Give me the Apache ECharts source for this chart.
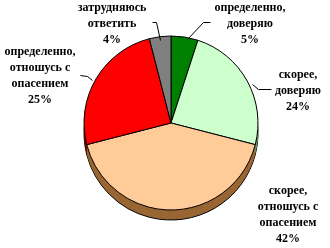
<!DOCTYPE html>
<html><head><meta charset="utf-8">
<script src="https://cdn.jsdelivr.net/npm/echarts@6/dist/echarts.min.js"></script>
<style>html,body{margin:0;padding:0;background:#fff}#c{width:330px;height:248px}</style>
</head><body><div id="c"></div>
<script>
var categories = ['определенно,\nдоверяю', 'скорее,\nдоверяю', 'скорее,\nотношусь с\nопасением', 'определенно,\nотношусь с\nопасением', 'затрудняюсь\nответить'];
var values = [5, 24, 42, 25, 4];
var topColors = ['#008000', '#CCFFCC', '#FFCC99', '#FF0000', '#808080'];
var sideColors = ['#004000', '#669966', '#996633', '#800000', '#404040'];
var labelCenters = [[250, 24], [298, 91], [288, 215], [40, 76], [112, 24]];
var leaderPaths = [
  [[187, 39], [203, 22], [210, 22]],
  [[252, 84], [258, 89], [271, 89]],
  null,
  [[92, 80], [87, 76], [80, 75]],
  [[160, 40], [156, 22], [152, 22]]
];

var cx = 171, cy = 123, R = 87, depth = 10;
var fontFam = '"Liberation Serif", "DejaVu Serif", serif';

function mkData(colors) {
  return categories.map(function (c, i) {
    return { name: c, value: values[i], itemStyle: { color: colors[i] } };
  });
}
var series = [];
for (var d = depth; d >= 1; d--) {
  series.push({
    type: 'pie', silent: true, animation: false,
    center: [cx, cy + d], radius: [0, R], startAngle: 90, clockwise: true,
    label: { show: false }, labelLine: { show: false },
    itemStyle: { borderColor: d === depth ? '#000' : 'transparent', borderWidth: d === depth ? 1 : 0 },
    z: 1, data: mkData(sideColors)
  });
}
series.push({
  type: 'pie', animation: false,
  center: [cx, cy], radius: [0, R], startAngle: 90, clockwise: true,
  itemStyle: { borderColor: '#000', borderWidth: 1 },
  label: {
    show: true, position: 'outside', color: '#000', fontFamily: fontFam,
    fontWeight: 'bold', fontSize: 12, lineHeight: 16, align: 'center',
    overflow: 'none', width: 120,
    formatter: function (p) { return p.name + '\n' + p.value + '%'; }
  },
  labelLine: { show: false },
  labelLayout: function (p) {
    var c = labelCenters[p.dataIndex];
    return { x: c[0], y: c[1], align: 'center', verticalAlign: 'middle' };
  },
  z: 2, data: mkData(topColors)
});
var graphics = [];
leaderPaths.forEach(function (p, i) {
  if (!p) return;
  for (var k = 0; k < p.length - 1; k++) {
    graphics.push({
      type: 'line', id: 'leader' + i + '_' + k, z: 100, silent: true,
      shape: { x1: p[k][0] + 0.5, y1: p[k][1] + 0.5, x2: p[k + 1][0] + 0.5, y2: p[k + 1][1] + 0.5 },
      style: { stroke: '#000', lineWidth: 1 }
    });
  }
});
var chart = echarts.init(document.getElementById('c'), null, { renderer: 'canvas' });
chart.setOption({ backgroundColor: '#fff', animation: false, series: series, graphic: { elements: graphics } });
</script></body></html>
